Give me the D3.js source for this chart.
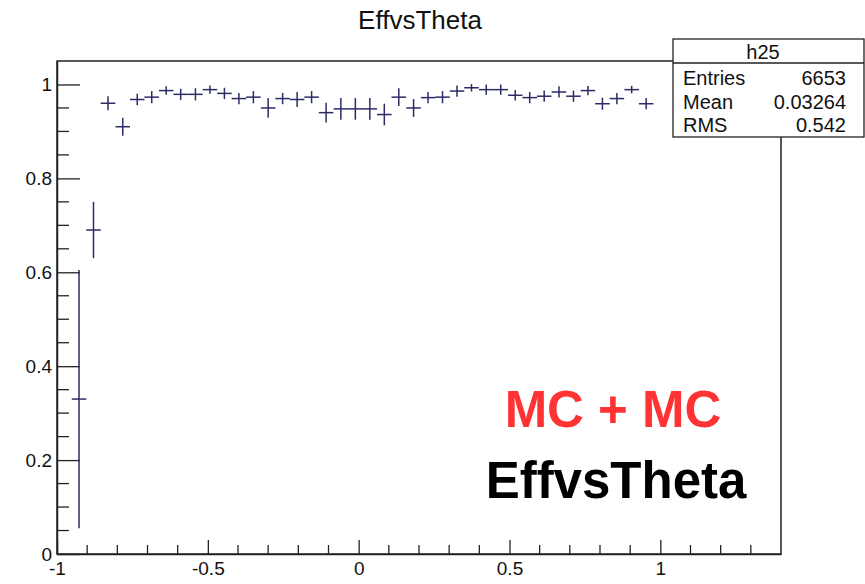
<!DOCTYPE html>
<html>
<head>
<meta charset="utf-8">
<script src="https://cdn.jsdelivr.net/npm/d3@7"></script>
<style>
  html, body { margin: 0; padding: 0; background: #ffffff; }
  svg { display: block; font-family: "Liberation Sans", Arial, Helvetica, sans-serif; }
</style>
</head>
<body>
<svg id="chart" width="865" height="584"></svg>
<script>
// Efficiency per theta bin (bin centres, values, vertical errors)
const binCenters = [
  -0.927, -0.879, -0.831, -0.782, -0.734, -0.686, -0.638, -0.590, -0.541, -0.493,
  -0.445, -0.397, -0.349, -0.300, -0.252, -0.204, -0.156, -0.108, -0.059, -0.011,
   0.037,  0.085,  0.133,  0.182,  0.230,  0.278,  0.326,  0.374,  0.423,  0.471,
   0.519,  0.567,  0.615,  0.664,  0.712,  0.760,  0.808,  0.856,  0.905,  0.953
];
const efficiency = [
  0.330, 0.690, 0.960, 0.910, 0.968, 0.973, 0.987, 0.979, 0.979, 0.989,
  0.981, 0.970, 0.973, 0.950, 0.970, 0.968, 0.973, 0.940, 0.948, 0.948,
  0.948, 0.936, 0.973, 0.950, 0.972, 0.973, 0.986, 0.993, 0.989, 0.989,
  0.977, 0.972, 0.975, 0.984, 0.975, 0.987, 0.959, 0.970, 0.989, 0.959
];
const efficiencyErr = [
  0.275, 0.060, 0.015, 0.019, 0.012, 0.013, 0.009, 0.012, 0.013, 0.009,
  0.012, 0.012, 0.013, 0.021, 0.012, 0.016, 0.013, 0.021, 0.023, 0.023,
  0.023, 0.023, 0.019, 0.019, 0.012, 0.013, 0.012, 0.008, 0.011, 0.011,
  0.011, 0.012, 0.012, 0.012, 0.012, 0.010, 0.013, 0.012, 0.008, 0.012
];
const binHalfWidth = 0.0241;

const xDomain = [-1, 1.4];
const yDomain = [0, 1.05];
const xTickValues = [-1, -0.5, 0, 0.5, 1];
const yTickValues = [0, 0.2, 0.4, 0.6, 0.8, 1];
const xTickLabels = ["-1", "-0.5", "0", "0.5", "1"];
const yTickLabels = ["0", "0.2", "0.4", "0.6", "0.8", "1"];

const histTitle = "EffvsTheta";
const statsName = "h25";
const statsLabels = ["Entries", "Mean", "RMS"];
const statsValues = ["6653", "0.03264", "0.542"];
const noteLines = ["MC + MC", "EffvsTheta"];

const frame = { left: 57, right: 781, top: 61, bottom: 554 };
const markColor = "#2b2b66";
const axisColor = "#222222";
const svg = d3.select("#chart");

const x = d3.scaleLinear().domain(xDomain).range([frame.left, frame.right]);
const y = d3.scaleLinear().domain(yDomain).range([frame.bottom, frame.top]);

// frame
svg.append("rect")
  .attr("x", frame.left).attr("y", frame.top)
  .attr("width", frame.right - frame.left).attr("height", frame.bottom - frame.top)
  .attr("fill", "none").attr("stroke", axisColor).attr("stroke-width", 1.5);

// minor ticks
const xMinor = d3.range(-9, 14).map(d => d / 10).filter(v => !xTickValues.some(t => Math.abs(t - v) < 1e-9));
const yMinor = d3.range(1, 21).map(d => d / 20).filter(v => !yTickValues.some(t => Math.abs(t - v) < 1e-9));

svg.append("g").selectAll("line").data(xMinor).join("line")
  .attr("x1", d => x(d)).attr("x2", d => x(d))
  .attr("y1", frame.bottom).attr("y2", frame.bottom - 9)
  .attr("stroke", axisColor).attr("stroke-width", 1.3);
svg.append("g").selectAll("line").data(yMinor).join("line")
  .attr("x1", frame.left).attr("x2", frame.left + 12)
  .attr("y1", d => y(d)).attr("y2", d => y(d))
  .attr("stroke", axisColor).attr("stroke-width", 1.3);

// major axes
const xAxis = d3.axisBottom(x).tickValues(xTickValues)
  .tickFormat((d, i) => xTickLabels[i]).tickSizeInner(-14).tickSizeOuter(0).tickPadding(8);
const yAxis = d3.axisLeft(y).tickValues(yTickValues)
  .tickFormat((d, i) => yTickLabels[i]).tickSizeInner(-23).tickSizeOuter(0).tickPadding(5);

const gx = svg.append("g").attr("transform", `translate(0,${frame.bottom})`).call(xAxis);
const gy = svg.append("g").attr("transform", `translate(${frame.left},0)`).call(yAxis);
[gx, gy].forEach(g => {
  g.select(".domain").attr("stroke", axisColor).attr("stroke-width", 1.5);
  g.selectAll(".tick line").attr("stroke", axisColor).attr("stroke-width", 1.3);
  g.selectAll(".tick text").attr("fill", "#111").attr("font-size", 19)
    .attr("font-family", '"Liberation Sans", Arial, sans-serif');
});

// data points with error bars
const points = binCenters.map((c, i) => ({ c, v: efficiency[i], e: efficiencyErr[i] }));
const gp = svg.append("g").attr("stroke", markColor).attr("stroke-width", 1.5);
gp.selectAll("line.h").data(points).join("line").attr("class", "h")
  .attr("x1", d => x(d.c - binHalfWidth)).attr("x2", d => x(d.c + binHalfWidth))
  .attr("y1", d => y(d.v)).attr("y2", d => y(d.v));
gp.selectAll("line.v").data(points).join("line").attr("class", "v")
  .attr("x1", d => x(d.c)).attr("x2", d => x(d.c))
  .attr("y1", d => y(d.v - d.e)).attr("y2", d => y(d.v + d.e));

// title
svg.append("text").attr("x", 420).attr("y", 29).attr("text-anchor", "middle")
  .attr("font-size", 26).attr("fill", "#111").text(histTitle);

// statistics box
const sb = svg.append("g");
sb.append("rect").attr("x", 673).attr("y", 39).attr("width", 191).attr("height", 98)
  .attr("fill", "#fff").attr("stroke", axisColor).attr("stroke-width", 1.3);
sb.append("line").attr("x1", 673).attr("x2", 864).attr("y1", 63).attr("y2", 63)
  .attr("stroke", axisColor).attr("stroke-width", 1.3);
sb.append("text").attr("x", 763).attr("y", 59).attr("text-anchor", "middle")
  .attr("font-size", 20).attr("fill", "#111").text(statsName);
const rowBase = [85, 109, 132];
statsLabels.forEach((lab, i) => {
  sb.append("text").attr("x", 683).attr("y", rowBase[i]).attr("font-size", 20)
    .attr("fill", "#111").text(lab);
  sb.append("text").attr("x", 846).attr("y", rowBase[i]).attr("font-size", 20)
    .attr("text-anchor", "end").attr("fill", "#111").text(statsValues[i]);
});

// annotation
svg.append("text").attr("x", 613).attr("y", 427).attr("text-anchor", "middle")
  .attr("font-size", 51).attr("font-weight", "bold").attr("fill", "#ff3333").text(noteLines[0]);
svg.append("text").attr("x", 616).attr("y", 498).attr("text-anchor", "middle")
  .attr("font-size", 51).attr("font-weight", "bold").attr("fill", "#000").text(noteLines[1]);
</script>
</body>
</html>
